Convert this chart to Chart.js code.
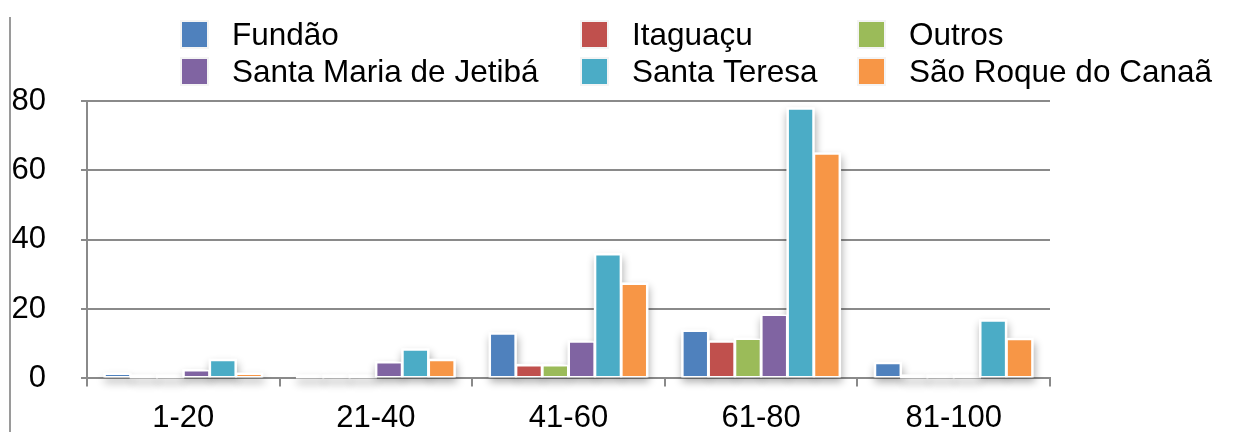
<!DOCTYPE html>
<html>
<head>
<meta charset="utf-8">
<script src="https://cdn.jsdelivr.net/npm/chart.js@4/dist/chart.umd.min.js"></script>
<style>
  html, body { margin: 0; padding: 0; background: #ffffff; }
  #wrap { position: relative; width: 1235px; height: 432px; }
</style>
</head>
<body>
<div id="wrap"><canvas id="c" width="1235" height="432"></canvas></div>
<script>
// Faixas (categorias) e séries por município
const categories = ['1-20', '21-40', '41-60', '61-80', '81-100'];
const seriesNames = ['Fundão', 'Itaguaçu', 'Outros', 'Santa Maria de Jetibá', 'Santa Teresa', 'São Roque do Canaã'];
const fundao      = [1.4, 0, 13, 13.8, 4.5];
const itaguacu    = [0, 0, 3.9, 10.7, 0];
const outros      = [0, 0, 3.9, 11.5, 0];
const santaMaria  = [2.4, 4.7, 10.7, 18.4, 0];
const santaTeresa = [5.4, 8.4, 35.9, 77.9, 16.8];
const saoRoque    = [1.4, 5.4, 27.4, 64.9, 11.4];
const yTicks = [0, 20, 40, 60, 80];

const seriesValues = [fundao, itaguacu, outros, santaMaria, santaTeresa, saoRoque];
const seriesColors = ['#4F81BD', '#C0504D', '#9BBB59', '#8064A2', '#4BACC6', '#F79646'];

const FONT = "'Liberation Sans', Arial, sans-serif";
const GRID = '#8a8a8a';

// Soft shadow + white halo behind every bar
const barShadow = {
  id: 'barShadow',
  beforeDatasetsDraw(chart) {
    const ctx = chart.ctx;
    ctx.save();
    chart.data.datasets.forEach((ds, i) => {
      const meta = chart.getDatasetMeta(i);
      meta.data.forEach(bar => {
        const p = bar.getProps(['x', 'y', 'base', 'width'], true);
        const top = Math.min(p.y, p.base - 3);
        ctx.shadowColor = 'rgba(0,0,0,0.32)';
        ctx.shadowBlur = 8;
        ctx.shadowOffsetX = 1;
        ctx.shadowOffsetY = 5;
        ctx.fillStyle = '#ffffff';
        ctx.fillRect(p.x - p.width / 2 - 1, top - 1, p.width + 2, p.base - top + 1);
      });
    });
    ctx.restore();
  }
};

// Frame line on the left edge
const leftFrame = {
  id: 'leftFrame',
  afterDraw(chart) {
    const ctx = chart.ctx;
    ctx.save();
    ctx.strokeStyle = '#9a9a9a';
    ctx.lineWidth = 2;
    ctx.beginPath();
    ctx.moveTo(10, 17);
    ctx.lineTo(10, chart.height);
    ctx.stroke();
    ctx.restore();
  }
};

// Legend laid out in three aligned columns
const gridLegend = {
  id: 'gridLegend',
  afterDraw(chart) {
    const ctx = chart.ctx;
    const colX = [182, 582, 859];
    const rowY = [22, 59];
    const box = 25;
    ctx.save();
    ctx.font = '31.5px ' + FONT;
    ctx.textBaseline = 'middle';
    ctx.textAlign = 'left';
    chart.data.datasets.forEach((ds, i) => {
      const x = colX[i % 3];
      const y = rowY[Math.floor(i / 3)];
      ctx.fillStyle = '#f4f4f4';
      ctx.fillRect(x - 2, y - 2, box + 4, box + 4);
      ctx.fillStyle = ds.backgroundColor;
      ctx.fillRect(x, y, box, box);
      ctx.fillStyle = '#000000';
      ctx.fillText(ds.label, x + box + 25, y + box / 2 + 2);
    });
    ctx.restore();
  }
};

const datasets = seriesNames.map((name, i) => ({
  label: name,
  data: seriesValues[i],
  backgroundColor: seriesColors[i],
  borderColor: '#ffffff',
  borderWidth: 1.5,
  borderSkipped: false,
  barPercentage: 1,
  categoryPercentage: 0.82
}));

new Chart(document.getElementById('c'), {
  type: 'bar',
  data: { labels: categories, datasets },
  options: {
    responsive: false,
    animation: false,
    devicePixelRatio: 1,
    layout: { padding: { top: 101, left: 0, right: 185, bottom: 0 } },
    plugins: { legend: { display: false }, tooltip: { enabled: false } },
    scales: {
      x: {
        grid: { display: true, drawOnChartArea: false, drawTicks: true, tickLength: 8, color: GRID, lineWidth: 2, offset: true },
        border: { display: true, color: GRID, width: 2 },
        ticks: { color: '#000000', font: { family: FONT, size: 31 }, padding: 13, maxRotation: 0 },
        afterFit(scale) { scale.height = 52; }
      },
      y: {
        min: 0,
        max: 80,
        afterBuildTicks(scale) { scale.ticks = yTicks.map(v => ({ value: v })); },
        grid: { color: GRID, lineWidth: 2, tickLength: 6 },
        border: { display: true, color: GRID, width: 2 },
        ticks: { color: '#000000', font: { family: FONT, size: 31 }, padding: 35 },
        afterFit(scale) { scale.width = 87; }
      }
    }
  },
  plugins: [barShadow, leftFrame, gridLegend]
});
</script>
</body>
</html>
